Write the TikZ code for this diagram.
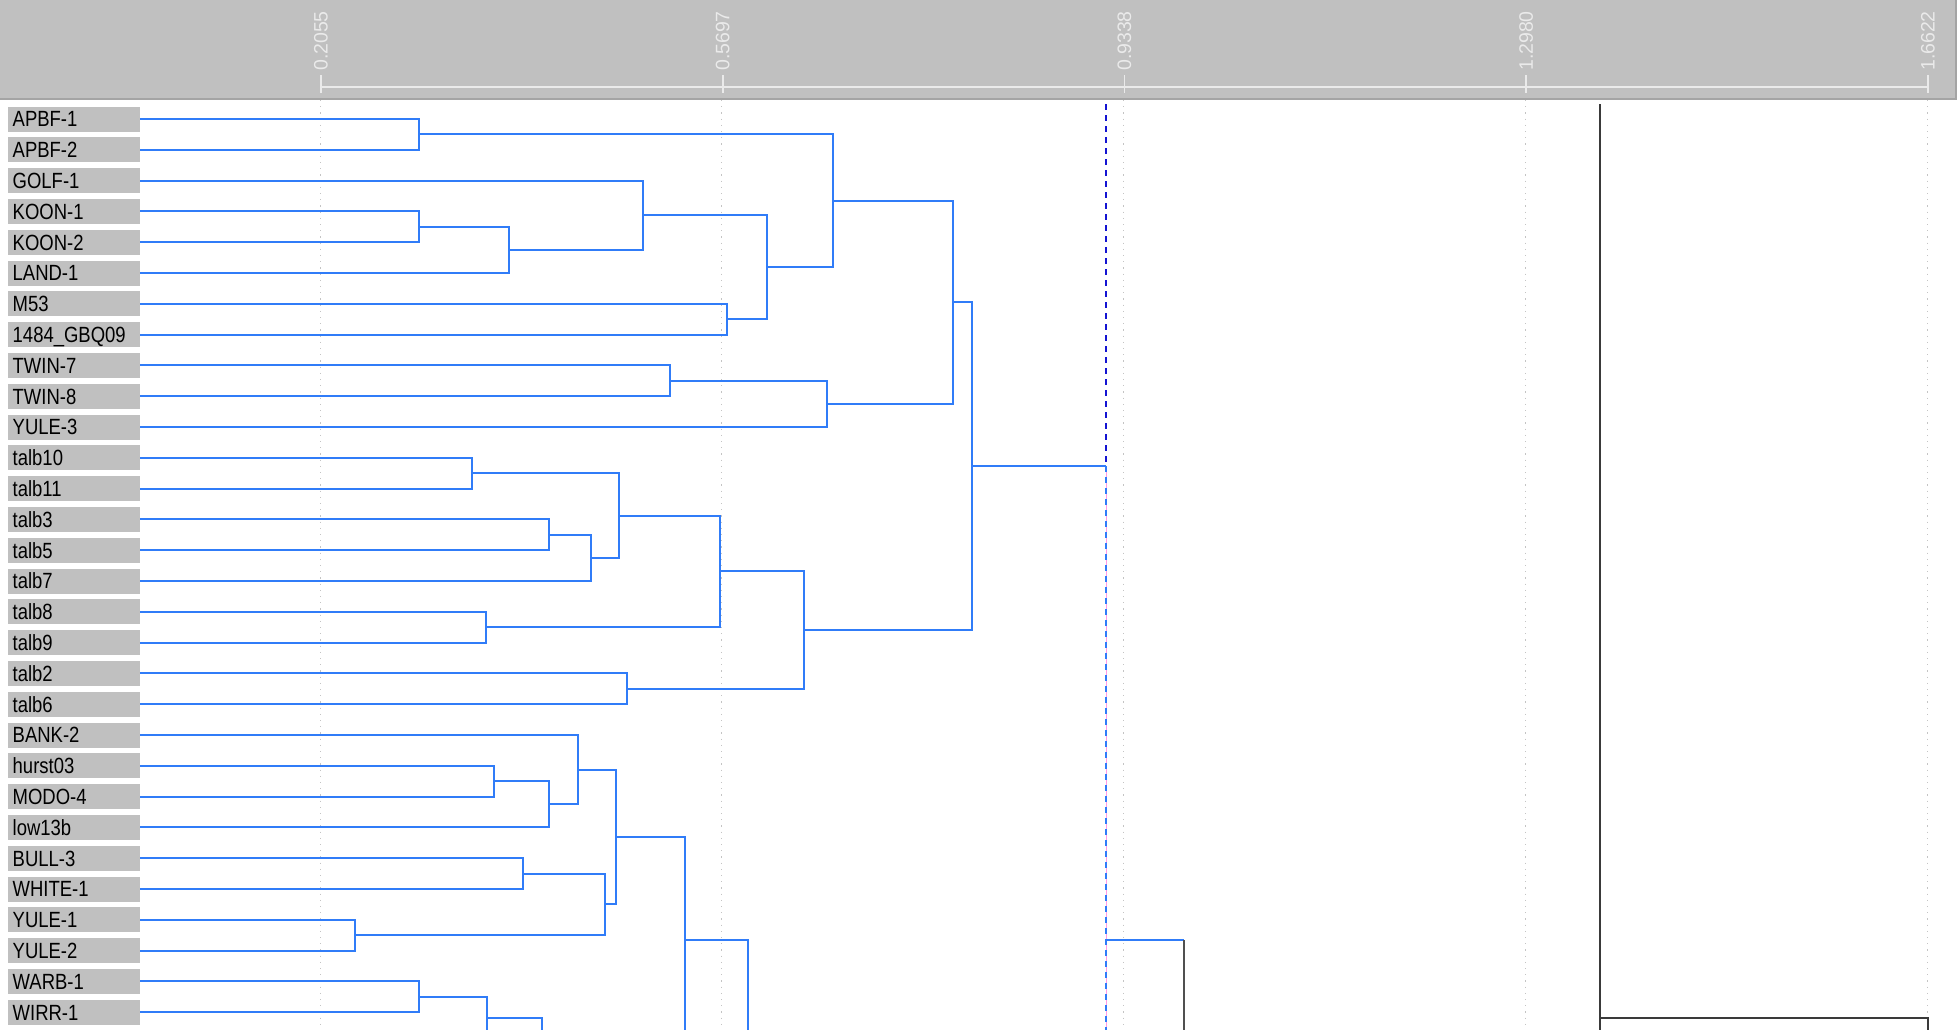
\documentclass[tikz,border=0pt]{standalone}
\usepackage{fontspec}
\setmainfont{Liberation Sans}
\newfontfamily\labfont[FakeStretch=0.84]{Liberation Sans}
\definecolor{hdr}{HTML}{C0C0C0}
\definecolor{hdrline}{HTML}{A4A4A4}
\definecolor{axisc}{HTML}{EAEAEA}
\definecolor{gridc}{HTML}{C4C4C4}
\definecolor{blu}{HTML}{307CF8}
\definecolor{cutdark}{HTML}{1414D2}
\definecolor{pinkc}{HTML}{FF9AE6}
\definecolor{blk}{HTML}{3A3A3A}
\definecolor{dgray}{HTML}{505050}
\begin{document}
\begin{tikzpicture}[x=1pt,y=-1pt,
  lab/.style={rectangle, fill=hdr, anchor=west, minimum width=132pt, minimum height=25pt,
    inner xsep=4.5pt, inner ysep=0pt, text width=123pt, align=left,
    font=\labfont\fontsize{22}{22}\selectfont, text height=15.75pt, text depth=0pt, text=black},
  ticklab/.style={rotate=90, anchor=west, inner sep=0pt, text=axisc,
    font=\fontsize{19.5}{19.5}\selectfont},
  link/.style={draw=blu, line width=2pt},
  gridl/.style={draw=gridc, line width=1pt, dash pattern=on 1.2pt off 5pt},
  cuttop/.style={draw=cutdark, line width=1.4pt, dash pattern=on 6pt off 5pt},
  cutbot/.style={draw=blu, line width=1.4pt, dash pattern=on 6pt off 5pt},
  pinkl/.style={draw=pinkc, line width=0.8pt},
  blkline/.style={draw=blk, line width=1.8pt},
  grayline/.style={draw=dgray, line width=1.8pt}]
\useasboundingbox (0,0) rectangle (1957,1029);
\clip (0,0) rectangle (1957,1029);
\fill[white] (0,0) rectangle (1957,1029);

% header
\fill[hdr] (0,0) rectangle (1956,99);
\draw[hdrline, line width=1.5pt] (0,99) -- (1956,99) -- (1956,0);

% axis
\coordinate (ax0) at (321,87);
\coordinate (ax4) at (1928,87);
\draw[axisc, line width=2pt] (ax0) -- (ax4);
\foreach \tx/\tl [count=\k] in {321/0.2055, 722.75/0.5697, 1124.5/0.9338, 1526.25/1.2980, 1928/1.6622} {
  \coordinate (tk\k) at (\tx,75);
  \coordinate (tkb\k) at (\tx,93);
  \draw[axisc, line width=1.8pt] (tk\k) -- (tkb\k);
  \node[ticklab] (tl\k) at (\tx,71) {\tl};
  \coordinate (g\k) at (\tx-1,100);
  \coordinate (gb\k) at (\tx-1,1029);
  \draw[gridl] (g\k) -- (gb\k);
}

% leaf labels
\foreach \n [count=\i from 0] in {APBF-1,APBF-2,GOLF-1,KOON-1,KOON-2,LAND-1,M53,1484\_GBQ09,TWIN-7,TWIN-8,YULE-3,talb10,talb11,talb3,talb5,talb7,talb8,talb9,talb2,talb6,BANK-2,hurst03,MODO-4,low13b,BULL-3,WHITE-1,YULE-1,YULE-2,WARB-1,WIRR-1} {
  \node[lab] (l\i) at (8,119+30.8*\i) {\n};
}

% merge points
\coordinate (mA) at (419,134.4);
\coordinate (mK) at (419,226.8);
\coordinate (mKL) at (509,249.9);
\coordinate (mG) at (643,215.25);
\coordinate (mM) at (727,319.2);
\coordinate (mGM) at (767,267.2);
\coordinate (mAG) at (833,200.8);
\coordinate (mT) at (670,380.8);
\coordinate (mTY) at (827,403.9);
\coordinate (mTop) at (953,302.35);
\coordinate (t1) at (472,473.2);
\coordinate (t2) at (549,534.8);
\coordinate (t3) at (591,557.9);
\coordinate (t4) at (619,515.55);
\coordinate (t5) at (486,627.2);
\coordinate (t6) at (720,571.4);
\coordinate (t7) at (627,688.8);
\coordinate (t8) at (804,630.1);
\coordinate (mAll) at (972,466.2);
\coordinate (b1) at (494,781.2);
\coordinate (b2) at (549,804.3);
\coordinate (b3) at (578,769.65);
\coordinate (b4) at (523,873.6);
\coordinate (b5) at (355,935.2);
\coordinate (b6) at (604.5,904.4);
\coordinate (b7) at (616,837);
\coordinate (b8) at (685,940);
\coordinate (b8low) at (685,1040);
\coordinate (b9low) at (748,1040);
\coordinate (w1) at (419,996.8);
\coordinate (w2) at (487,1018.3);
\coordinate (w2low) at (487,1040);
\coordinate (w3low) at (542,1040);

% cut line
\coordinate (cuttopc) at (1106,104);
\coordinate (cut1) at (1106,466.2);
\coordinate (cut2) at (1106,940);
\coordinate (cutlow) at (1106,1040);
\coordinate (gk) at (1184,940);
\coordinate (gklow) at (1184,1040);
\draw[pinkl] (cut1) -- (cutlow);
\draw[cuttop] (cuttopc) -- (cut1);
\draw[cutbot] (cut1) -- (cutlow);

% top cluster
\draw[link] (l0.east) -| (mA) |- (l1.east);
\draw[link] (l3.east) -| (mK) |- (l4.east);
\draw[link] (mK) -| (mKL) |- (l5.east);
\draw[link] (l2.east) -| (mG) |- (mKL);
\draw[link] (l6.east) -| (mM) |- (l7.east);
\draw[link] (mG) -| (mGM) |- (mM);
\draw[link] (mA) -| (mAG) |- (mGM);
\draw[link] (l8.east) -| (mT) |- (l9.east);
\draw[link] (mT) -| (mTY) |- (l10.east);
\draw[link] (mAG) -| (mTop) |- (mTY);
% talb cluster
\draw[link] (l11.east) -| (t1) |- (l12.east);
\draw[link] (l13.east) -| (t2) |- (l14.east);
\draw[link] (t2) -| (t3) |- (l15.east);
\draw[link] (t1) -| (t4) |- (t3);
\draw[link] (l16.east) -| (t5) |- (l17.east);
\draw[link] (t4) -| (t6) |- (t5);
\draw[link] (l18.east) -| (t7) |- (l19.east);
\draw[link] (t6) -| (t8) |- (t7);
\draw[link] (mTop) -| (mAll) |- (t8);
\draw[link] (mAll) -- (cut1);
% bottom cluster
\draw[link] (l21.east) -| (b1) |- (l22.east);
\draw[link] (b1) -| (b2) |- (l23.east);
\draw[link] (l20.east) -| (b3) |- (b2);
\draw[link] (l24.east) -| (b4) |- (l25.east);
\draw[link] (l26.east) -| (b5) |- (l27.east);
\draw[link] (b4) -| (b6) |- (b5);
\draw[link] (b3) -| (b7) |- (b6);
\draw[link] (b7) -| (b8) -- (b8low);
\draw[link] (b8) -| (b9low);
\draw[link] (l28.east) -| (w1) |- (l29.east);
\draw[link] (w1) -| (w2) -- (w2low);
\draw[link] (w2) -| (w3low);
\draw[link] (cut2) -- (gk);
\draw[grayline] (gk) -- (gklow);

% black tree part
\coordinate (k1) at (1600,104);
\coordinate (k1low) at (1600,1040);
\coordinate (k2) at (1600,1018);
\coordinate (k3) at (1928,1018);
\coordinate (k3low) at (1928,1040);
\draw[blkline] (k1) -- (k1low);
\draw[blkline] (k2) -- (k3) -- (k3low);
\end{tikzpicture}
\end{document}
